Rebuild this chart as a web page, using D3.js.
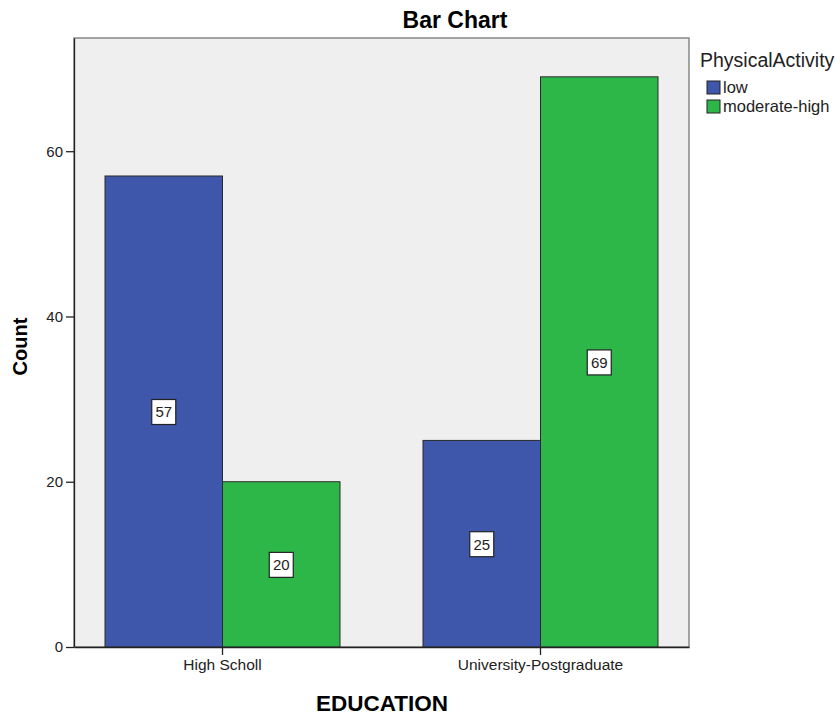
<!DOCTYPE html>
<html>
<head>
<meta charset="utf-8">
<script src="https://cdn.jsdelivr.net/npm/d3@7"></script>
<style>
  body { margin: 0; background: #fff; }
  text { font-family: "Liberation Sans", Arial, sans-serif; }
</style>
</head>
<body>
<div id="chart"></div>
<script>
// Grouped bar chart: EDUCATION x PhysicalActivity counts
const categories = ["High Scholl", "University-Postgraduate"];
const groups = ["low", "moderate-high"];
const lowCounts = [57, 25];
const modHighCounts = [20, 69];
const yTicks = [0, 20, 40, 60];

const colors = { "low": "#3e57ab", "moderate-high": "#2eb749" };

const width = 840, height = 717;
const plot = { left: 74, top: 38, right: 689, bottom: 647 };

const rows = [];
categories.forEach((c, i) => {
  rows.push({ cat: c, group: "low", value: lowCounts[i] });
  rows.push({ cat: c, group: "moderate-high", value: modHighCounts[i] });
});

const svg = d3.select("#chart")
  .append("svg")
  .attr("width", width)
  .attr("height", height);

// scales
const x = d3.scaleBand()
  .domain(categories)
  .range([plot.left, plot.right])
  .paddingInner(0.261)
  .paddingOuter(0.0975);

const xSub = d3.scaleBand()
  .domain(groups)
  .range([0, x.bandwidth()]);

const y = d3.scaleLinear()
  .domain([0, 73.7])
  .range([plot.bottom, plot.top]);

// plot background
svg.append("rect")
  .attr("x", plot.left).attr("y", plot.top)
  .attr("width", plot.right - plot.left)
  .attr("height", plot.bottom - plot.top)
  .attr("fill", "#efefef")
  .attr("stroke", "#777")
  .attr("stroke-width", 1.3);

// bars
svg.append("g")
  .selectAll("rect")
  .data(rows)
  .join("rect")
  .attr("x", d => x(d.cat) + xSub(d.group))
  .attr("y", d => y(d.value))
  .attr("width", xSub.bandwidth())
  .attr("height", d => y(0) - y(d.value))
  .attr("fill", d => colors[d.group])
  .attr("stroke", "#2a2a2a")
  .attr("stroke-width", 1);

// value labels in boxes
const lab = svg.append("g")
  .selectAll("g")
  .data(rows)
  .join("g")
  .attr("transform", d => `translate(${x(d.cat) + xSub(d.group) + xSub.bandwidth() / 2}, ${y(d.value / 2)})`);

lab.append("rect")
  .attr("x", -12).attr("y", -12)
  .attr("width", 24).attr("height", 25)
  .attr("fill", "#fff")
  .attr("stroke", "#222")
  .attr("stroke-width", 1.2);

lab.append("text")
  .attr("text-anchor", "middle")
  .attr("y", 6)
  .style("font-size", "15px")
  .style("fill", "#222")
  .text(d => d.value);

// y axis
svg.append("g")
  .attr("transform", `translate(${plot.left},0)`)
  .call(d3.axisLeft(y).tickValues(yTicks).tickSize(8).tickSizeOuter(0).tickPadding(3))
  .call(g => g.select(".domain").attr("stroke", "#222").attr("stroke-width", 1.3))
  .call(g => g.selectAll(".tick line").attr("stroke", "#222").attr("stroke-width", 1.3))
  .call(g => g.selectAll("text")
    .style("font-size", "15px")
    .style("font-family", "Liberation Sans, Arial, sans-serif")
    .style("fill", "#222"));

// x axis
svg.append("g")
  .attr("transform", `translate(0,${plot.bottom})`)
  .call(d3.axisBottom(x).tickSize(8).tickSizeOuter(0).tickPadding(4))
  .call(g => g.select(".domain").attr("stroke", "#222").attr("stroke-width", 1.3))
  .call(g => g.selectAll(".tick line").attr("stroke", "#222").attr("stroke-width", 1.3))
  .call(g => g.selectAll("text")
    .style("font-size", "15.5px")
    .style("font-family", "Liberation Sans, Arial, sans-serif")
    .style("fill", "#222"));

// title and axis titles
svg.append("text")
  .attr("x", 455).attr("y", 28)
  .attr("text-anchor", "middle")
  .style("font-size", "23px")
  .style("font-weight", "bold")
  .text("Bar Chart");

svg.append("text")
  .attr("transform", `translate(27, ${(plot.top + plot.bottom) / 2 + 4}) rotate(-90)`)
  .attr("text-anchor", "middle")
  .style("font-size", "20px")
  .style("font-weight", "bold")
  .text("Count");

svg.append("text")
  .attr("x", 382).attr("y", 711)
  .attr("text-anchor", "middle")
  .style("font-size", "22.5px")
  .style("font-weight", "bold")
  .text("EDUCATION");

// legend
const legend = svg.append("g").attr("transform", "translate(700, 0)");
legend.append("text")
  .attr("x", 0).attr("y", 67)
  .style("font-size", "19.5px")
  .style("fill", "#222")
  .text("PhysicalActivity");

const item = legend.selectAll(".item")
  .data(groups)
  .join("g")
  .attr("class", "item")
  .attr("transform", (d, i) => `translate(7, ${81 + i * 19})`);

item.append("rect")
  .attr("width", 13).attr("height", 13)
  .attr("fill", d => colors[d])
  .attr("stroke", "#222")
  .attr("stroke-width", 1);

item.append("text")
  .attr("x", 16).attr("y", 12)
  .style("font-size", "16.5px")
  .style("fill", "#222")
  .text(d => d);
</script>
</body>
</html>
